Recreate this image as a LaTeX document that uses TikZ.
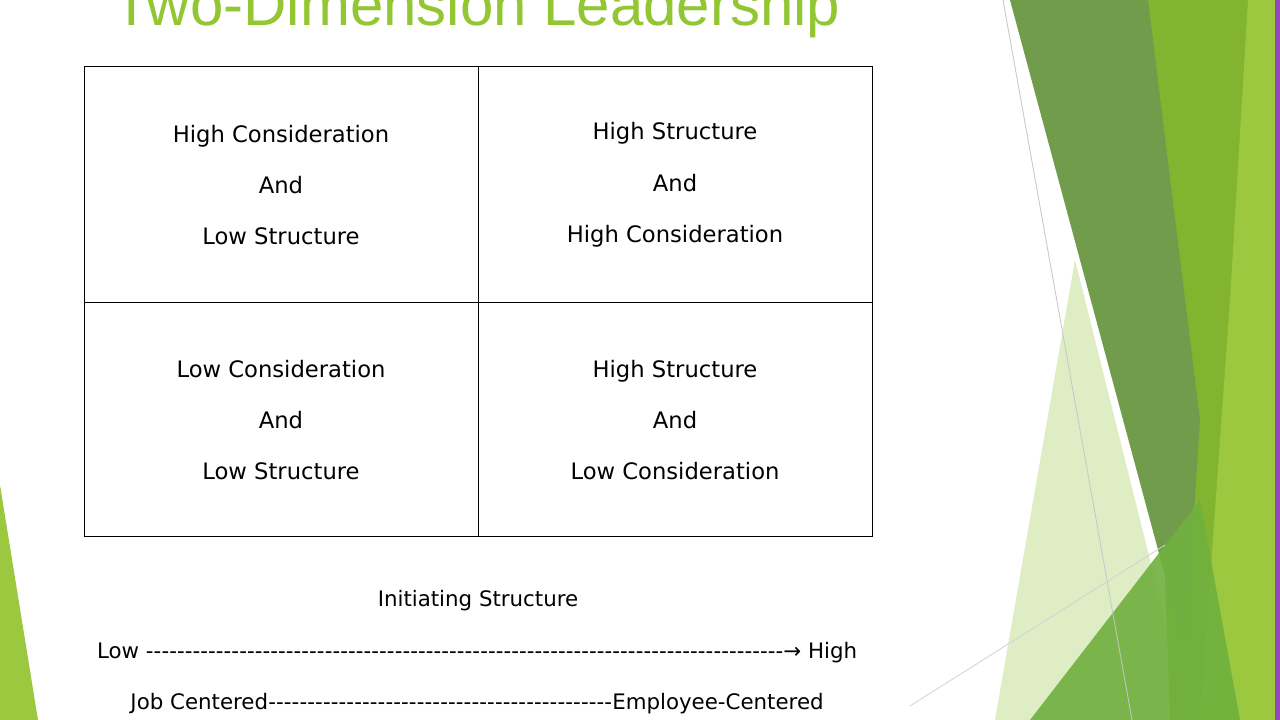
\documentclass[tikz,border=0pt]{standalone}
\usepackage{fontspec}
\setmainfont{DejaVu Sans}
\newfontfamily\titlefont{Liberation Sans}
\definecolor{titlegreen}{RGB}{146,198,50}
\definecolor{darkleaf}{RGB}{112,156,76}
\definecolor{midleaf}{RGB}{130,180,48}
\definecolor{lightleaf}{RGB}{156,200,64}
\definecolor{paleleaf}{RGB}{218,234,188}
\definecolor{grassleaf}{RGB}{112,176,62}
\definecolor{edgepurple}{RGB}{150,70,190}
\tikzset{every picture/.style={line width=0.75pt}}
\tikzset{
	cell text/.style={font=\fontsize{17}{38.5}\selectfont, align=center},
	axis text/.style={font=\fontsize{16}{19}\selectfont}}
\newcommand{\dashrun}[1]{\hbox to #1{\xleaders\hbox{-}\hfill}}

\begin{document}
\begin{tikzpicture}[x=0.75pt,y=0.75pt,yscale=-1,xscale=1]
	\useasboundingbox (0,0) rectangle (1280,720);
	\fill[white] (0,0) rectangle (1280,720);

	% background leaves
	\fill[paleleaf, fill opacity=0.85] (1075,260) -- (1190,720) -- (995,720) -- cycle;
	\fill[midleaf] (1145,0) -- (1250,0) -- (1235,720) -- (1170,720) -- cycle;
	\fill[darkleaf] (1010,0) -- (1148,0) -- (1200,420) -- (1185,650) -- cycle;
	\fill[lightleaf] (1248,0) -- (1275,0) -- (1275,720) -- (1200,720) -- (1230,300) -- cycle;
	\fill[grassleaf, fill opacity=0.9] (1200,500) -- (1240,720) -- (1030,720) -- cycle;
	\fill[edgepurple] (1275,0) rectangle (1280,720);
	\fill[lightleaf] (0,485) -- (38,720) -- (0,720) -- cycle;
	\draw[gray!45, line width=0.6pt] (1003,0) -- (1132,720);
	\draw[gray!35, line width=0.6pt] (910,706) -- (1165,545);

	% title
	\node (title) at (477,10) {\titlefont\fontsize{45}{50}\selectfont\color{titlegreen}Two-Dimension Leadership};

	% grid
	\draw (84,67) rectangle (872,536);
	\draw (478,67) -- (478,536);
	\draw (84,302) -- (872,302);

	% cells
	\node[cell text] (hclS) at (281,185) {High Consideration\\And\\Low Structure};
	\node[cell text] (hshC) at (675,185) {High Structure\\And\\High Consideration};
	\node[cell text] (lclS) at (281,420) {Low Consideration\\And\\Low Structure};
	\node[cell text] (hslC) at (675,420) {High Structure\\And\\Low Consideration};

	% axis
	\node[axis text] (axis) at (478,601) {Initiating Structure};
	\node[axis text] (scale) at (477,653) {Low \dashrun{478pt}→ High};
	\node[axis text] (focus) at (477,704) {Job Centered\dashrun{258pt}Employee-Centered};
\end{tikzpicture}
\end{document}
